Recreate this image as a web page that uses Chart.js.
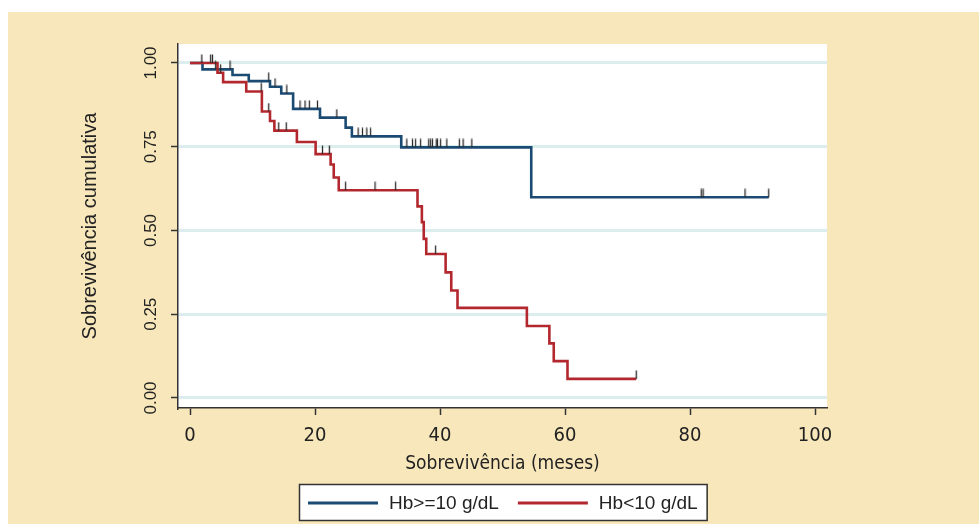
<!DOCTYPE html>
<html><head><meta charset="utf-8">
<script src="https://cdn.jsdelivr.net/npm/chart.js@4.4.1/dist/chart.umd.min.js"></script>
<style>html,body{margin:0;padding:0;background:#fff;overflow:hidden}#wrap{width:979px;height:524px;position:relative}</style>
</head><body><div id="wrap"><canvas id="c" width="979" height="524"></canvas></div>
<script>
// ---- data ----
const seriesNames = ['Hb>=10 g/dL', 'Hb<10 g/dL'];
const highTimes = [0, 2.0, 6.8, 9.4, 12.8, 14.6, 16.5, 20.8, 24.9, 25.9, 33.8, 54.6, 92.6];
const highSurv  = [1, 0.981, 0.964, 0.946, 0.929, 0.909, 0.863, 0.837, 0.807, 0.781, 0.748, 0.599, 0.599];
const highCensor = [1.9, 4.1, 6.4, 12.6, 13.6, 15.5, 17.6, 18.4, 19.1, 20.4, 23.5, 26.9, 27.6, 28.3, 28.9,
  34.7, 35.6, 36.1, 36.9, 38.2, 38.5, 38.8, 39.4, 39.6, 40.1, 41.1, 43.1, 43.7, 45.1, 81.8, 82.1, 88.8, 92.6];
const lowTimes = [0, 4.4, 5.3, 9.0, 11.5, 12.8, 13.5, 17.1, 20.1, 22.5, 23.0, 23.8, 36.4, 37.1, 37.4, 37.8,
  40.9, 41.8, 42.8, 53.9, 57.5, 58.2, 60.4, 71.4];
const lowSurv = [1, 0.971, 0.943, 0.915, 0.855, 0.827, 0.798, 0.764, 0.728, 0.697, 0.658, 0.620, 0.572, 0.525,
  0.475, 0.430, 0.375, 0.321, 0.269, 0.215, 0.163, 0.110, 0.057, 0.057];
const lowCensor = [3.3, 3.6, 4.9, 11.4, 12.6, 14.2, 15.4, 21.2, 22.3, 24.9, 29.6, 32.9, 39.3, 71.4];
const xTickValues = [0, 20, 40, 60, 80, 100];
const yTickValues = [0, 0.25, 0.5, 0.75, 1];
const xTitle = 'Sobrevivência (meses)';
const yTitle = 'Sobrevivência cumulativa';

// ---- helpers ----
const BLUE = '#1b4b73', RED = '#b3282e';
const NARROW = '"Liberation Sans Narrow", "DejaVu Sans Condensed", sans-serif';
function curve(t, s) { return t.map((x, i) => ({x: x, y: s[i]})); }
function survAt(t, s, x) { let v = s[0]; for (let i = 0; i < t.length; i++) { if (t[i] <= x) v = s[i]; } return v; }
function censorPts(c, t, s) { return c.map(x => ({x: x, y: survAt(t, s, x)})); }
function tickMark() {
  const c = document.createElement('canvas'); c.width = 3; c.height = 18;
  const g = c.getContext('2d'); g.strokeStyle = '#2b2b2b'; g.lineWidth = 1.3;
  g.beginPath(); g.moveTo(1.5, 0.5); g.lineTo(1.5, 9); g.stroke(); return c;
}
const mark = tickMark();

const bgPlugin = {
  id: 'bg',
  beforeDraw(chart) {
    const {ctx, chartArea: a} = chart;
    ctx.save();
    ctx.fillStyle = '#ffffff'; ctx.fillRect(0, 0, 979, 524);
    ctx.fillStyle = '#f8e7ba'; ctx.fillRect(8, 12, 971, 512);
    ctx.fillStyle = '#ffffff'; ctx.fillRect(a.left, a.top, a.right - a.left, a.bottom - a.top);
    ctx.restore();
  }
};
const legendPlugin = {
  id: 'boxLegend',
  afterDraw(chart) {
    const ctx = chart.ctx;
    ctx.save();
    ctx.font = '19px "Liberation Sans", Arial, sans-serif';
    const lineW = 70, gap = 11, between = 19, pad = 9;
    const items = [{c: BLUE, t: seriesNames[0]}, {c: RED, t: seriesNames[1]}];
    let total = pad * 2;
    items.forEach((it, i) => { it.w = ctx.measureText(it.t).width; total += lineW + gap + it.w + (i ? between : 0); });
    const cx = (chart.chartArea.left + chart.chartArea.right) / 2;
    let x = Math.round(cx - total / 2);
    const top = 484, h = 36, cy = top + h / 2 + 1;
    ctx.fillStyle = '#fff'; ctx.fillRect(x, top, total, h);
    ctx.strokeStyle = '#333'; ctx.lineWidth = 1.5; ctx.strokeRect(x + 0.5, top + 0.5, total, h);
    x += pad;
    items.forEach((it, i) => {
      if (i) x += between;
      ctx.strokeStyle = it.c; ctx.lineWidth = 3; ctx.beginPath(); ctx.moveTo(x, cy); ctx.lineTo(x + lineW, cy); ctx.stroke();
      x += lineW + gap;
      ctx.fillStyle = '#222'; ctx.textBaseline = 'middle'; ctx.textAlign = 'left';
      ctx.fillText(it.t, x, cy + 1);
      x += it.w;
    });
    ctx.restore();
  }
};

new Chart(document.getElementById('c'), {
  type: 'scatter',
  data: {
    datasets: [
      {type: 'line', label: seriesNames[0], data: curve(highTimes, highSurv), borderColor: BLUE, borderWidth: 2.6,
        stepped: 'before', pointRadius: 0, fill: false, order: 2},
      {type: 'line', label: seriesNames[1], data: curve(lowTimes, lowSurv), borderColor: RED, borderWidth: 2.6,
        stepped: 'before', pointRadius: 0, fill: false, order: 1},
      {label: 'c1', data: censorPts(highCensor, highTimes, highSurv), pointStyle: mark, pointRadius: 9, order: 0},
      {label: 'c2', data: censorPts(lowCensor, lowTimes, lowSurv), pointStyle: mark, pointRadius: 9, order: 0}
    ]
  },
  options: {
    responsive: false, animation: false, devicePixelRatio: 1,
    layout: {padding: {top: 44, right: 152, left: 0, bottom: 0}},
    plugins: {legend: {display: false}, tooltip: {enabled: false}},
    scales: {
      x: {
        type: 'linear', min: -1.92, max: 101.92,
        afterBuildTicks: s => { s.ticks = xTickValues.map(v => ({value: v})); },
        afterFit: s => { s.height = 116; },
        border: {color: '#333', width: 1.5},
        grid: {drawOnChartArea: false, drawTicks: true, tickLength: 7, tickColor: '#333', tickWidth: 1.5},
        ticks: {color: '#222', padding: 9, maxRotation: 0, font: {family: NARROW, size: 20},
          callback: v => String(v)},
        title: {display: true, text: xTitle, color: '#222', padding: {top: 0, bottom: 49},
          font: {family: NARROW, size: 19}}
      },
      y: {
        type: 'linear', min: -0.0299, max: 1.0567,
        afterBuildTicks: s => { s.ticks = yTickValues.map(v => ({value: v})); },
        afterFit: s => { s.width = 178; },
        border: {color: '#333', width: 1.5},
        grid: {color: '#dcedee', lineWidth: 3, drawTicks: true, tickLength: 7, tickColor: '#333', tickWidth: 1.5},
        ticks: {color: '#222', padding: 3, minRotation: 90, maxRotation: 90, crossAlign: 'center',
          font: {family: '"Liberation Sans", Arial, sans-serif', size: 17}, callback: v => Number(v).toFixed(2)},
        title: {display: true, text: yTitle, color: '#222', padding: {top: 78, bottom: 0},
          font: {family: '"Liberation Sans", Arial, sans-serif', size: 20}}
      }
    }
  },
  plugins: [bgPlugin, legendPlugin]
});
</script></body></html>
